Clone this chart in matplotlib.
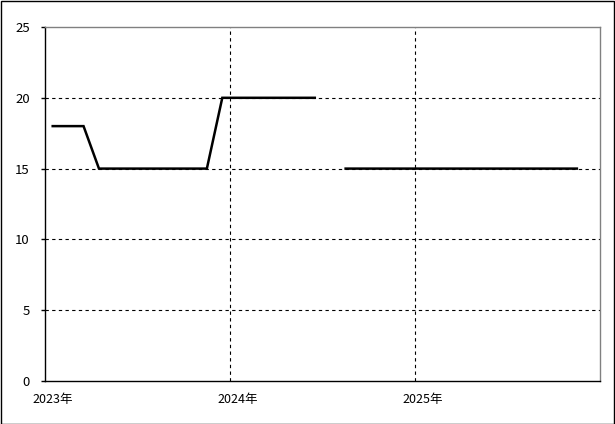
import numpy as np
import matplotlib
matplotlib.use("Agg")
import matplotlib.pyplot as plt
from matplotlib.patches import Rectangle

plt.rcParams['font.family'] = ['Noto Sans CJK JP', 'DejaVu Sans']

# monthly values, Jan 2023 .. Dec 2025 (nan = no data)
values = [18, 18, 18, 15, 15, 15, 15, 15, 15, 15, 15, 20,
          20, 20, 20, 20, 20, 20, np.nan, 15, 15, 15, 15, 15,
          15, 15, 15, 15, 15, 15, 15, 15, 15, 15, 15, np.nan]
year_labels = ['2023年', '2024年', '2025年']
year_pos = [0, 12, 24]
y_ticks = [0, 5, 10, 15, 20, 25]

fig = plt.figure(figsize=(6.15, 4.24), dpi=100)
ax = fig.add_axes([45/615, 43/424, 555/615, 354/424])

x = np.arange(len(values))
ax.plot(x, values, color='black', lw=1.8, solid_joinstyle='miter', zorder=3)

ax.set_xlim(-0.5, len(values) - 0.5)
ax.set_ylim(0, 25)
ax.set_yticks(y_ticks)
ax.set_xticks(year_pos)
ax.set_xticklabels(year_labels)
ax.tick_params(axis='x', length=0, pad=9, labelsize=9)
ax.tick_params(axis='y', length=3, width=1, pad=8, labelsize=9.5)

# grid lines
for yv in y_ticks[1:-1]:
    ax.axhline(yv, color='black', lw=0.8, ls=(0, (3, 3)), zorder=1)
for b in [11.5, 23.5]:
    ax.axvline(b, color='black', lw=0.8, ls=(0, (3, 3)), zorder=1)

ax.spines['left'].set_color('black')
ax.spines['bottom'].set_color('black')
ax.spines['top'].set_color('gray')
ax.spines['right'].set_color('gray')
for s in ax.spines.values():
    s.set_linewidth(1)

# outer frame
fig.patches.append(Rectangle((0.5/615, 0.5/424), 1 - 1.5/615, 1 - 1.5/424,
                             transform=fig.transFigure, fill=False,
                             edgecolor='black', lw=1))

fig.savefig('out.png', dpi=100)
